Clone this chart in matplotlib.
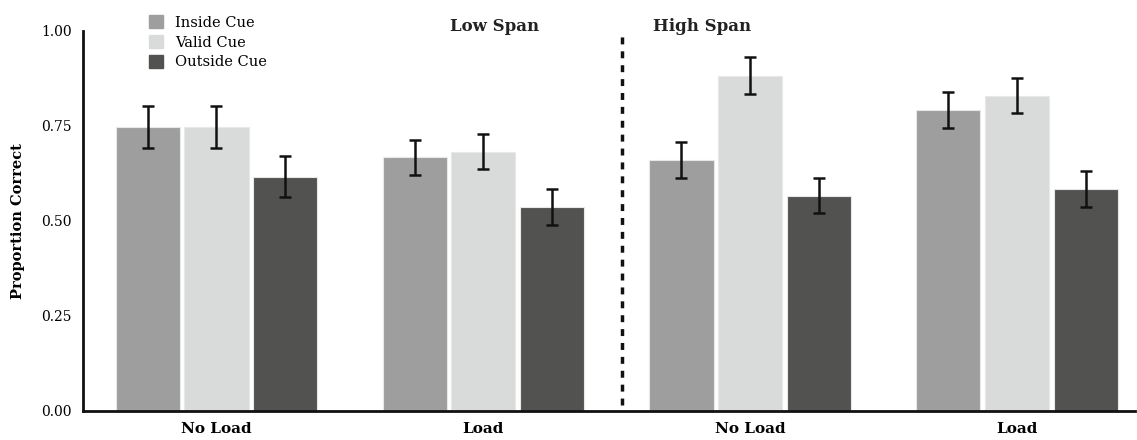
import matplotlib.pyplot as plt
import numpy as np
from matplotlib.patches import Patch

plt.rcParams['font.family'] = ['DejaVu Serif']

# data
groups = ['No Load', 'Load', 'No Load', 'Load']
series = ['Inside Cue', 'Valid Cue', 'Outside Cue']
inside = [0.747, 0.668, 0.660, 0.792]
valid = [0.747, 0.682, 0.882, 0.829]
outside = [0.616, 0.537, 0.566, 0.584]
inside_err = [0.054, 0.046, 0.047, 0.047]
valid_err = [0.054, 0.046, 0.049, 0.046]
outside_err = [0.054, 0.048, 0.046, 0.047]
colors = ['#9e9e9e', '#d9dbda', '#525250']

fig = plt.figure(figsize=(11.37, 4.4), dpi=100)
ax = fig.add_axes([0.073, 0.066, 0.925, 0.864])

x = np.arange(len(groups))
w = 0.24
off = 0.258
for i, (vals, errs) in enumerate([(inside, inside_err), (valid, valid_err), (outside, outside_err)]):
    ax.bar(x + (i - 1) * off, vals, w, color=colors[i], edgecolor='#e8e8e8', linewidth=0.8,
           yerr=errs, error_kw=dict(ecolor='#111111', elinewidth=1.8, capsize=4, capthick=1.8))

# divider between low and high span
ax.axvline(1.52, ymin=0.015, ymax=0.995, color='#111111', linestyle=(0, (2, 2)), linewidth=2.5)

ax.set_xlim(-0.5, 3.44)
ax.set_ylim(0, 1.0)
ax.set_xticks(x)
ax.set_xticklabels(groups, fontweight='bold', fontsize=11)
ax.set_yticks([0, 0.25, 0.5, 0.75, 1.0])
ax.set_yticklabels(['0.00', '0.25', '0.50', '0.75', '1.00'], fontsize=10)
ax.tick_params(length=0, pad=8)
ax.set_ylabel('Proportion Correct', fontweight='bold', fontsize=10.5, labelpad=12)
for s in ['top', 'right']:
    ax.spines[s].set_visible(False)
for s in ['left', 'bottom']:
    ax.spines[s].set_linewidth(2)
    ax.spines[s].set_color('#111111')

ax.text(1.04, 1.01, 'Low Span', fontweight='bold', fontsize=12, ha='center', va='center', color='#222222')
ax.text(1.82, 1.01, 'High Span', fontweight='bold', fontsize=12, ha='center', va='center', color='#222222')

handles = [Patch(color=c) for c in colors]
ax.legend(handles, series, loc='upper left', bbox_to_anchor=(0.05, 1.075), frameon=False,
          fontsize=10.5, handlelength=1.0, handleheight=1.0, labelspacing=0.35, handletextpad=0.8)

fig.savefig('out.png', dpi=100)
